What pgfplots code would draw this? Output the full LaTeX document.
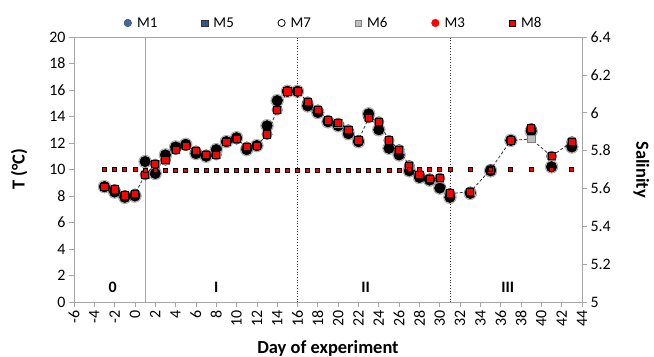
\documentclass[border=0pt]{standalone}
\usepackage{fontspec}
\setmainfont{Carlito}
\usepackage{pgfplots}
\pgfplotsset{compat=1.18}
\definecolor{axgray}{RGB}{166,166,166}
\definecolor{mblue}{RGB}{68,104,158}
\definecolor{mblue2}{RGB}{47,85,151}
\definecolor{mgray}{RGB}{191,191,191}
\newcommand{\lgt}[1]{\makebox[67bp][l]{\kern4bp #1}}
\pgfplotstableread{
d Tr Tb Tg
-3 8.7 8.7 8.7
-2 8.5 8.3 8.5
-1 8.05 7.9 8.05
0 8.15 8.0 8.15
1 9.6 10.6 9.6
2 10.4 9.7 10.4
3 10.7 11.1 10.7
4 11.5 11.7 11.5
5 11.8 11.9 11.8
6 11.4 11.2 11.4
7 11.1 11.0 11.1
8 11.1 11.5 11.1
9 12.1 12.1 12.1
10 12.3 12.4 12.3
11 11.7 11.5 11.7
12 11.8 11.8 11.8
13 12.65 13.3 12.65
14 14.5 15.2 14.5
15 15.9 15.9 15.9
16 15.9 15.9 15.9
17 15.1 14.8 15.1
18 14.5 14.3 14.5
19 13.7 13.6 13.7
20 13.5 13.3 13.5
21 13.0 12.7 13.0
22 12.2 12.1 12.2
23 13.9 14.2 13.9
24 13.6 13.0 13.6
25 12.2 11.6 12.2
26 11.5 11.1 11.5
27 10.3 9.9 10.3
28 9.6 9.4 9.6
29 9.3 9.2 9.3
30 9.35 8.6 9.35
31 8.2 7.9 8.2
33 8.3 8.2 8.3
35 10.0 9.9 10.0
37 12.2 12.2 12.2
39 13.1 12.9 12.3
41 11.0 10.2 11.0
43 12.1 11.7 12.1
}\temps
\pgfplotstableread{
d S
-3 5.70
-2 5.70
-1 5.70
0 5.70
1 5.695
2 5.693
3 5.693
4 5.693
5 5.693
6 5.693
7 5.693
8 5.693
9 5.693
10 5.693
11 5.693
12 5.693
13 5.693
14 5.693
15 5.695
16 5.695
17 5.695
18 5.695
19 5.695
20 5.695
21 5.695
22 5.697
23 5.697
24 5.697
25 5.697
26 5.697
27 5.70
28 5.70
29 5.70
30 5.70
31 5.70
33 5.703
35 5.703
37 5.703
39 5.703
41 5.703
43 5.703
}\sal
\begin{document}
\begin{tikzpicture}
\path[use as bounding box] (-74bp,-55bp) rectangle (580bp,302bp);
\begin{axis}[
  scale only axis, width=508bp, height=265bp, at={(0,0)}, anchor=south west,
  xmin=-6, xmax=44, ymin=0, ymax=20,
  xtick={-6,-4,...,44}, ytick={0,2,...,20},
  axis line style={axgray, line width=0.7pt},
  major tick style={axgray, line width=0.7pt}, major tick length=5bp,
  tick align=outside, xtick pos=bottom, ytick pos=left,
  /pgf/number format/assume math mode=true,
  xticklabel style={rotate=90, anchor=east, font=\fontsize{16}{17}\selectfont},
  yticklabel style={font=\fontsize{16}{17}\selectfont},
  xlabel={\textbf{Day of experiment}},
  ylabel={\textbf{T (°C)}},
  xlabel style={font=\fontsize{18.5}{19}\selectfont, at={(axis description cs:0.5,-0.174)}, anchor=center},
  ylabel style={font=\fontsize{18.5}{19}\selectfont, at={(axis description cs:-0.108,0.5)}, anchor=center},
  legend columns=6,
  legend style={draw=none, fill=none, inner sep=0pt, nodes={inner sep=1.5bp}, column sep=0pt,
    at={(axis description cs:0.098,1.053)}, anchor=west,
    font=\fontsize{15}{16}\selectfont},
  legend cell align=left,
  legend image code/.code={\draw[#1] plot coordinates {(4bp,0bp)};},
]
\addlegendimage{only marks, mark=*, mark size=3.8bp, mark options={fill=mblue, draw=mblue!70!black}}
\addlegendentry{\lgt{M1}}
\addlegendimage{only marks, mark=square*, mark size=3.2bp, mark options={fill=mblue2, draw=black!80}}
\addlegendentry{\lgt{M5}}
\addlegendimage{only marks, mark=*, mark size=3.6bp, mark options={fill=white, draw=black, line width=0.8pt}}
\addlegendentry{\lgt{M7}}
\addlegendimage{only marks, mark=square*, mark size=3.2bp, mark options={fill=mgray, draw=gray}}
\addlegendentry{\lgt{M6}}
\addlegendimage{only marks, mark=*, mark size=3.8bp, mark options={fill=red, draw=red}}
\addlegendentry{\lgt{M3}}
\addlegendimage{only marks, mark=square*, mark size=3.2bp, mark options={fill=red, draw=black}}
\addlegendentry{\lgt{M8}}
% reference lines
\addplot[forget plot, axgray, line width=0.7pt] coordinates {(1,0) (1,20)};
\addplot[forget plot, black!80, dotted, line width=0.7pt] coordinates {(16,0) (16,20)};
\addplot[forget plot, black!80, dotted, line width=0.7pt] coordinates {(31,0) (31,20)};
% dashed line
\addplot[forget plot, black!80, dash pattern=on 3pt off 2pt, line width=0.8pt] table[x=d, y=Tg] {\temps};
% black circles (glow + solid)
\addplot[forget plot, only marks, mark=*, mark size=6.5bp, mark options={fill=black, draw=none, opacity=0.25}] table[x=d, y=Tb] {\temps};
\addplot[forget plot, only marks, mark=*, mark size=5.3bp, mark options={fill=black, draw=none}] table[x=d, y=Tb] {\temps};
\addplot[forget plot, only marks, mark=*, mark size=5.3bp, mark options={fill=black, draw=none, opacity=0.5}] table[x=d, y=Tr] {\temps};
% gray squares
\addplot[forget plot, only marks, mark=square*, mark size=3.6bp, mark options={fill=mgray, draw=gray}] table[x=d, y=Tg] {\temps};
% red squares
\addplot[forget plot, only marks, mark=square*, mark size=3.6bp, mark options={fill=red, draw=black, line width=0.8pt}] table[x=d, y=Tr] {\temps};
% phase labels
\node[font=\bfseries\fontsize{16}{17}\selectfont] at (axis cs:-2.2,1.1) {0};
\node[font=\bfseries\fontsize{16}{17}\selectfont] at (axis cs:8,1.1) {I};
\node[font=\bfseries\fontsize{16}{17}\selectfont] at (axis cs:22.7,1.1) {II};
\node[font=\bfseries\fontsize{16}{17}\selectfont] at (axis cs:36.7,1.1) {III};
\end{axis}
\begin{axis}[
  scale only axis, width=508bp, height=265bp, at={(0,0)}, anchor=south west,
  xmin=-6, xmax=44, ymin=5, ymax=6.4,
  axis x line=none, axis y line*=right,
  ytick={5,5.2,5.4,5.6,5.8,6,6.2,6.4},
  yticklabels={5,5.2,5.4,5.6,5.8,6,6.2,6.4},
  axis line style={axgray, line width=0.7pt, -},
  major tick style={axgray, line width=0.7pt}, major tick length=5bp,
  tick align=outside,
  yticklabel style={font=\fontsize{16}{17}\selectfont},
  ylabel={\textbf{Salinity}},
  ylabel style={font=\fontsize{18.5}{19}\selectfont, rotate=180, at={(axis description cs:1.117,0.5)}, anchor=center},
]
\addplot[only marks, mark=square*, mark size=2bp, mark options={fill=red, draw=black, line width=0.8pt}] table[x=d, y=S] {\sal};
\end{axis}
\end{tikzpicture}
\end{document}
